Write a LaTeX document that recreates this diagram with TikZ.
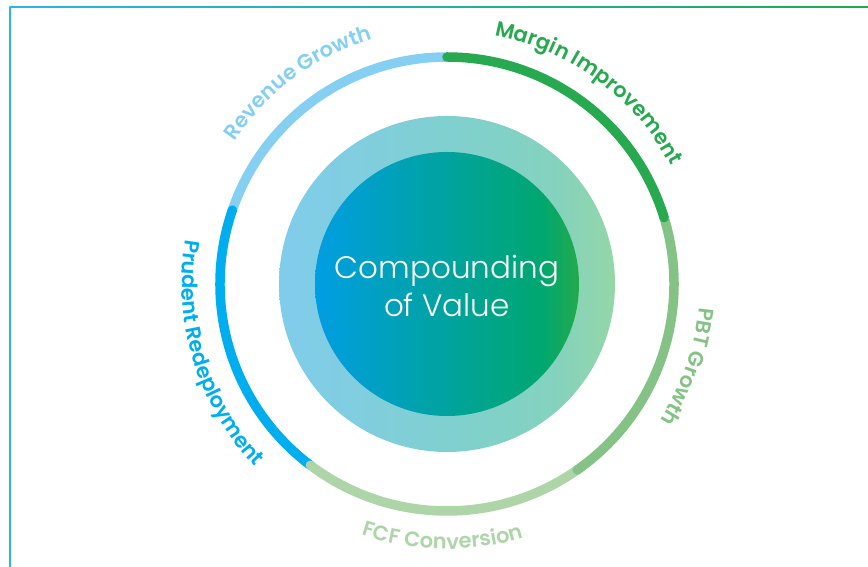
\documentclass[tikz,border=0pt]{standalone}
\usepackage{fontspec}
\setmainfont{Poppins}
\newfontfamily\lightfont{Poppins Light}
\newfontfamily\lblfont{Poppins SemiBold}
\usetikzlibrary{decorations.text}
\definecolor{revblue}{RGB}{133,207,243}
\definecolor{marggreen}{RGB}{39,169,79}
\definecolor{pbtgreen}{RGB}{133,194,133}
\definecolor{fcfgreen}{RGB}{173,213,168}
\definecolor{prublue}{RGB}{0,174,239}
\definecolor{outL}{RGB}{128,204,236}
\definecolor{outM}{RGB}{128,208,208}
\definecolor{outG}{RGB}{132,210,190}
\definecolor{outR}{RGB}{148,214,168}
\definecolor{inL}{RGB}{0,158,227}
\definecolor{inM}{RGB}{0,163,158}
\definecolor{inG}{RGB}{0,167,112}
\definecolor{inR}{RGB}{35,170,75}
\definecolor{frameblue}{RGB}{41,181,236}
\definecolor{frameteal}{RGB}{0,160,170}
\definecolor{framegreen}{RGB}{30,170,80}
\pgfdeclarehorizontalshading{innershade}{100bp}{color(0bp)=(inL); color(25bp)=(inL); color(50bp)=(inM); color(68bp)=(inG); color(75bp)=(inR); color(100bp)=(inR)}
\pgfdeclarehorizontalshading{outershade}{100bp}{color(0bp)=(outL); color(25bp)=(outL); color(50bp)=(outM); color(66bp)=(outG); color(75bp)=(outR); color(100bp)=(outR)}
\tikzset{
  ringarc/.style={line width=9.5pt, line cap=round},
  arclabel/.style={decorate, decoration={text along path, text align=center, text color=#1}},
}
\newcommand{\lblsize}{\lblfont\fontsize{21}{25}\selectfont}
\begin{document}
\begin{tikzpicture}[x=1pt,y=1pt]
\useasboundingbox (0,0) rectangle (868,567);
\coordinate (C) at (447,283);
% frame
\draw[frameblue, line width=1.3pt] (10,0) -- (10,560.3);
\shade[left color=frameblue, middle color=frameteal, right color=framegreen] (9.35,559.1) rectangle (868,560.4);
% disks
\shade[shading=outershade] (C) circle[radius=168pt];
\shade[shading=innershade] (C) circle[radius=132pt];
\node[text=white, font=\lightfont\fontsize{31}{38}\selectfont, align=center] (title) at (447,281) {Compounding\\of Value};
% ring
\draw[ringarc, revblue] ([shift={(90:227pt)}]C) arc[start angle=90, end angle=161, radius=227pt];
\draw[ringarc, prublue] ([shift={(161:227pt)}]C) arc[start angle=161, end angle=233, radius=227pt];
\draw[ringarc, fcfgreen] ([shift={(233:227pt)}]C) arc[start angle=233, end angle=305, radius=227pt];
\draw[ringarc, pbtgreen] ([shift={(305:227pt)}]C) arc[start angle=305, end angle=377, radius=227pt];
\draw[ringarc, marggreen] ([shift={(17:227pt)}]C) arc[start angle=17, end angle=90, radius=227pt];
% labels
\path[arclabel=revblue, decoration={text={|\lblsize|Revenue Growth}}] ([shift={(166.5:256pt)}]C) arc[start angle=166.5, end angle=86.5, radius=256pt];
\path[arclabel=marggreen, decoration={text={|\lblsize|Margin Improvement}}] ([shift={(93.5:253pt)}]C) arc[start angle=93.5, end angle=13.5, radius=253pt];
\path[arclabel=pbtgreen, decoration={text={|\lblsize|PBT Growth}}] ([shift={(21:253pt)}]C) arc[start angle=21, end angle=-59, radius=253pt];
\path[arclabel=fcfgreen, decoration={text={|\lblsize|FCF Conversion}}] ([shift={(-131:265pt)}]C) arc[start angle=-131, end angle=-51, radius=265pt];
\path[arclabel=prublue, decoration={text={|\lblsize|Prudent Redeployment}}] ([shift={(157:265pt)}]C) arc[start angle=157, end angle=237, radius=265pt];
\end{tikzpicture}
\end{document}
